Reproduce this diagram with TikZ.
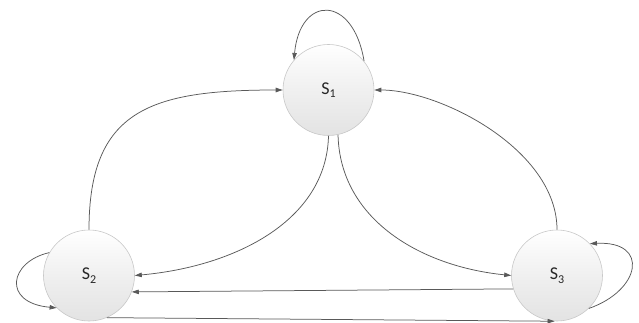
\documentclass[tikz,border=0pt]{standalone}
\usepackage{fontspec}
\setmainfont{Carlito}
\usetikzlibrary{arrows.meta}
\definecolor{edgec}{HTML}{595959}
\definecolor{ringc}{HTML}{C8C8C8}
\definecolor{txtc}{HTML}{262626}
\newcommand{\stname}[1]{S\raisebox{-3.5pt}{\fontsize{12}{12}\selectfont #1}}
\begin{document}
\begin{tikzpicture}[x=1pt,y=-1pt,
  state/.style={circle,minimum size=91pt,inner sep=0pt,draw=ringc,line width=0.6pt,
    top color=white,bottom color=black!11,middle color=black!6,text=txtc,font=\fontsize{18}{18}\selectfont},
  conn/.style={draw=edgec,line width=0.75pt,-{Triangle[length=7pt,width=4.5pt]}}]
\useasboundingbox (0,0) rectangle (639,323);
\node[state] (s1) at (328.5,90) {\stname{1}};
\node[state] (s2) at (89,275.5) {\stname{2}};
\node[state] (s3) at (557,275.5) {\stname{3}};
% self loops
\draw[conn] (s1.39) .. controls +(-11,-67) and +(6,-65) .. (s1.139);
\draw[conn] (s2.150) .. controls +(-40,9) and +(-55,-5) .. (s2.225);
\draw[conn] (s3.314) .. controls +(52,-18) and +(60,-3) .. (s3.44.5);
% into S1
\draw[conn] (s2.north) .. controls +(0,-120) and +(-132,0) .. (s1.west);
\draw[conn] (s3.north) .. controls +(0,-80) and +(66,0) .. (s1.east);
% out of S1
\draw[conn] (s1.270) .. controls +(-2,85) and +(100,-9) .. (s2.east);
\draw[conn] (s1.282) .. controls +(2,85) and +(-90,-9) .. (s3.west);
% between S2 and S3
\draw[conn] (s3.197) -- (s2.339.5);
\draw[conn] (s2.293) -- (s3.267);
\end{tikzpicture}
\end{document}
